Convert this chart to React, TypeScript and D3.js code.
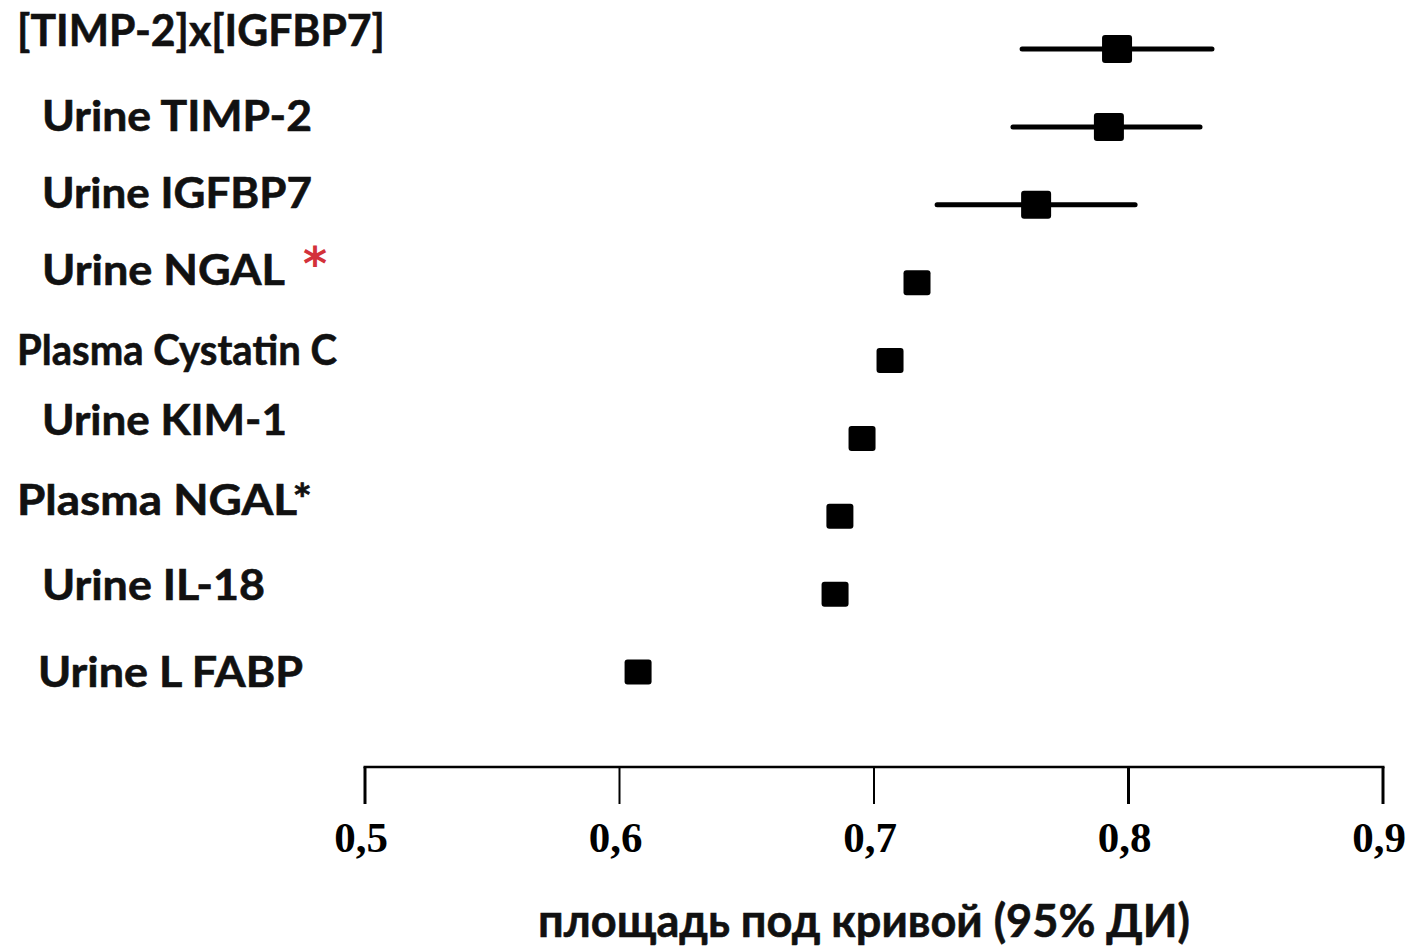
import React from "react";
import * as d3 from "d3";

const categories: string[] = [
  "[TIMP-2]x[IGFBP7]",
  "Urine TIMP-2",
  "Urine IGFBP7",
  "Urine NGAL",
  "Plasma Cystatin C",
  "Urine KIM-1",
  "Plasma NGAL*",
  "Urine IL-18",
  "Urine L FABP",
];
const auc: number[] = [0.7955, 0.7923, 0.7637, 0.7169, 0.7063, 0.6953, 0.6866, 0.6847, 0.6073];
const ciLow: (number | null)[] = [0.7582, 0.7546, 0.7248, null, null, null, null, null, null];
const ciHigh: (number | null)[] = [0.8328, 0.8281, 0.8026, null, null, null, null, null, null];
const flagged: boolean[] = [false, false, false, true, false, false, false, false, false];
const tickValues: number[] = [0.5, 0.6, 0.7, 0.8, 0.9];
const xTitle = "площадь под кривой (95% ДИ)";

const W = 1415;
const H = 947;

export default function App() {
  const x = d3.scaleLinear().domain([0.5, 0.9]).range([365, 1383]);
  const y = d3.scalePoint<string>().domain(categories).range([49, 672]);
  const axisY = 767;
  const fmt = (v: number) => d3.format(".1f")(v).replace(".", ",");

  // layout styling: label widths (condensed look) and baseline nudges per row
  const labelWidths = [368, 270, 270, 243, 320, 245, 295, 223, 265];
  const labelNudge = [-3, 4, 3, 2, 4, -3, -1, 6, 15];
  const labelIndent = [17, 42, 42, 42, 17, 42, 17, 42, 38];

  return (
    <svg
      width={W}
      height={H}
      style={{ position: "absolute", left: 0, top: 0, background: "#fff" }}
    >
      {/* category labels */}
      {categories.map((c, i) => {
        const cy = y(c)!;
        const big = i === 0;
        return (
          <g key={c}>
            <text
              x={labelIndent[i]}
              y={cy + labelNudge[i]}
              fontFamily="Lato, 'Open Sans', sans-serif"
              fontWeight="bold"
              fontSize={big ? 44 : 42}
              textLength={labelWidths[i]}
              lengthAdjust="spacingAndGlyphs"
              fill="#111"
              stroke="#111"
              strokeWidth={0.6}
            >
              {c}
            </text>
            {flagged[i] && (
              <text
                x={labelIndent[i] + labelWidths[i] + 18}
                y={cy - 3}
                fontFamily="'DejaVu Sans', sans-serif"
                fontWeight="bold"
                fontSize={46}
                fill="#d3313a"
              >
                *
              </text>
            )}
          </g>
        );
      })}

      {/* CI lines */}
      {categories.map((c, i) =>
        ciLow[i] != null && ciHigh[i] != null ? (
          <line
            key={"ci" + c}
            x1={x(ciLow[i] as number)}
            x2={x(ciHigh[i] as number)}
            y1={y(c)!}
            y2={y(c)!}
            stroke="#000"
            strokeWidth={5}
            strokeLinecap="round"
          />
        ) : null
      )}

      {/* point squares */}
      {categories.map((c, i) => {
        const s = ciLow[i] != null ? 30 : 27;
        return (
          <rect
            key={"pt" + c}
            x={x(auc[i]) - s / 2}
            y={y(c)! - s / 2 + 1}
            width={s}
            height={s - 2}
            rx={3}
            fill="#000"
          />
        );
      })}

      {/* x axis */}
      <line x1={x(0.5) - 1.5} x2={x(0.9) + 1.5} y1={axisY} y2={axisY} stroke="#000" strokeWidth={2.5} />
      {tickValues.map((t) => (
        <g key={"t" + t}>
          <line
            x1={x(t)}
            x2={x(t)}
            y1={axisY}
            y2={axisY + 37}
            stroke="#000"
            strokeWidth={t === 0.6 || t === 0.7 ? 2 : 3}
          />
          <text
            x={x(t) - 4}
            y={852}
            textAnchor="middle"
            fontFamily="'Liberation Serif', 'Times New Roman', serif"
            fontWeight="bold"
            fontSize={43}
            fill="#000"
          >
            {fmt(t)}
          </text>
        </g>
      ))}

      {/* x title */}
      <text
        x={538}
        y={937}
        fontFamily="Lato, 'Open Sans', sans-serif"
        fontWeight="bold"
        fontSize={46}
        textLength={652}
        lengthAdjust="spacingAndGlyphs"
        fill="#111"
        stroke="#111"
        strokeWidth={0.6}
      >
        {xTitle}
      </text>
    </svg>
  );
}
